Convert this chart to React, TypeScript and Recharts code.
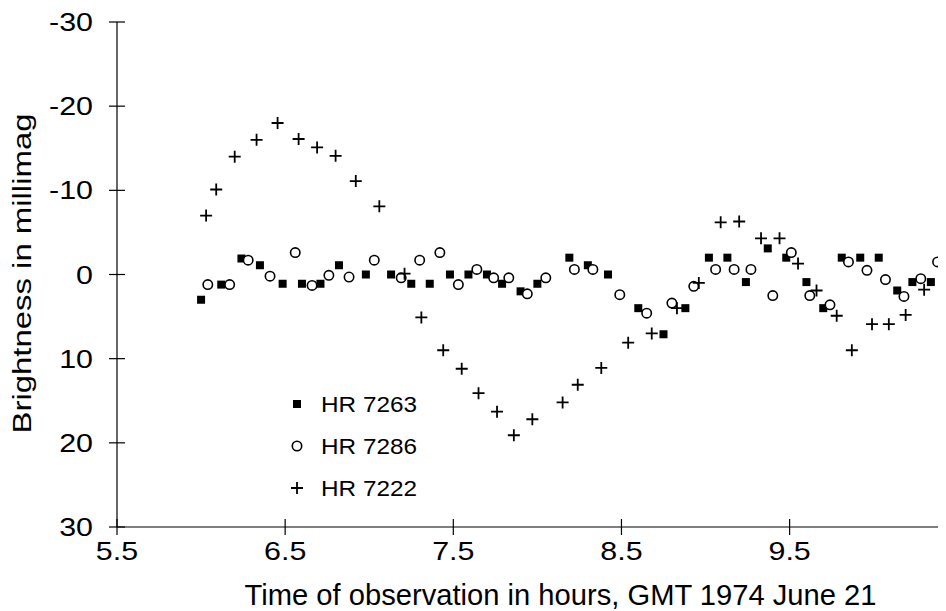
import { ScatterChart, Scatter, XAxis, YAxis, Legend } from "recharts";

// Light curves of three stars, 1974 June 21 (brightness in millimag, reversed axis)
const HR7263_T = [6.0, 6.12, 6.24, 6.35, 6.485, 6.6, 6.71, 6.82, 6.98, 7.13, 7.25, 7.36, 7.48, 7.59, 7.7, 7.79, 7.9, 8.0, 8.19, 8.3, 8.42, 8.6, 8.75, 8.88, 9.02, 9.13, 9.24, 9.37, 9.48, 9.6, 9.7, 9.81, 9.92, 10.03, 10.14, 10.23, 10.34];
const HR7263_M = [3.0, 1.2, -1.9, -1.1, 1.1, 1.1, 1.1, -1.1, 0, 0, 1.1, 1.1, 0, 0, 0, 1.1, 2.0, 1.1, -2.0, -1.1, 0, 4.0, 7.1, 4.0, -2.0, -2.0, 0.9, -3.1, -2.0, 0.9, 4.0, -2.0, -2.0, -2.0, 1.9, 0.9, 0.9];

const HR7286_T = [6.04, 6.17, 6.28, 6.41, 6.56, 6.66, 6.76, 6.88, 7.03, 7.19, 7.3, 7.42, 7.53, 7.64, 7.74, 7.83, 7.94, 8.05, 8.22, 8.33, 8.49, 8.65, 8.8, 8.93, 9.06, 9.17, 9.27, 9.4, 9.51, 9.62, 9.74, 9.85, 9.96, 10.07, 10.18, 10.28, 10.38];
const HR7286_M = [1.2, 1.2, -1.7, 0.2, -2.6, 1.3, 0.1, 0.3, -1.7, 0.4, -1.7, -2.6, 1.2, -0.6, 0.4, 0.4, 2.3, 0.4, -0.6, -0.6, 2.4, 4.6, 3.4, 1.4, -0.6, -0.6, -0.6, 2.5, -2.6, 2.5, 3.6, -1.5, -0.5, 0.6, 2.6, 0.5, -1.5];

const HR7222_T = [6.03, 6.09, 6.2, 6.33, 6.455, 6.58, 6.69, 6.8, 6.92, 7.06, 7.21, 7.31, 7.44, 7.55, 7.65, 7.76, 7.86, 7.97, 8.15, 8.24, 8.38, 8.54, 8.68, 8.83, 8.96, 9.09, 9.2, 9.33, 9.44, 9.55, 9.66, 9.78, 9.87, 9.99, 10.09, 10.19, 10.3];
const HR7222_M = [-7.0, -10.1, -14.0, -16.0, -18.0, -16.1, -15.1, -14.1, -11.1, -8.1, -0.1, 5.1, 9.0, 11.2, 14.1, 16.3, 19.1, 17.2, 15.2, 13.1, 11.1, 8.1, 7.0, 4.0, 1.0, -6.2, -6.3, -4.3, -4.3, -1.3, 1.9, 4.9, 9.0, 5.9, 5.9, 4.8, 1.8];

const X_TICKS = [5.5, 6.5, 7.5, 8.5, 9.5];
const Y_TICKS = [-30, -20, -10, 0, 10, 20, 30];
const STAR_NAMES = ["HR 7263", "HR 7286", "HR 7222"];

const INK = "#000";
const FONT = "'Liberation Sans', Arial, Helvetica, sans-serif";

const toPoints = (t: number[], m: number[]) => t.map((v, i) => ({ t: v, m: m[i] }));

type Kind = "square" | "circle" | "plus";

function Marker({ kind, cx, cy }: { kind: Kind; cx: number; cy: number }) {
  if (kind === "square") return <rect x={cx - 4} y={cy - 4} width={8} height={8} fill={INK} />;
  if (kind === "circle") return <circle cx={cx} cy={cy} r={4.7} fill="#fff" stroke={INK} strokeWidth={1.6} />;
  return (
    <path d={`M${cx - 6},${cy}H${cx + 6}M${cx},${cy - 6}V${cy + 6}`} stroke={INK} strokeWidth={1.8} fill="none" />
  );
}

const shapeOf = (kind: Kind) => (p: any) => <Marker kind={kind} cx={p.cx} cy={p.cy} />;

const SERIES: { name: string; kind: Kind; data: { t: number; m: number }[] }[] = [
  { name: STAR_NAMES[0], kind: "square", data: toPoints(HR7263_T, HR7263_M) },
  { name: STAR_NAMES[1], kind: "circle", data: toPoints(HR7286_T, HR7286_M) },
  { name: STAR_NAMES[2], kind: "plus", data: toPoints(HR7222_T, HR7222_M) },
];

// tick numbers in the scan are wide; stretch them a little around their anchor
function TickText({ x, y, anchor, children }: { x: number; y: number; anchor: "end" | "middle"; children: any }) {
  return (
    <text
      x={0}
      y={0}
      transform={`translate(${x} ${y}) scale(1.17 1)`}
      textAnchor={anchor}
      fontFamily={FONT}
      fontSize={26}
      fill={INK}
    >
      {children}
    </text>
  );
}

function YTick({ x, y, payload }: any) {
  return (
    <g>
      <line x1={x - 8} x2={x + 8} y1={y} y2={y} stroke={INK} strokeWidth={1.2} />
      <TickText x={x - 24} y={y + 9} anchor="end">
        {payload.value}
      </TickText>
    </g>
  );
}

function XTick({ x, y, payload }: any) {
  return (
    <g>
      <line x1={x} x2={x} y1={y - 8} y2={y + 8} stroke={INK} strokeWidth={1.2} />
      <TickText x={x} y={y + 33} anchor="middle">
        {payload.value.toFixed(1)}
      </TickText>
    </g>
  );
}

function LegendBox() {
  return (
    <svg width={150} height={120} style={{ display: "block" }}>
      {SERIES.map((s, i) => (
        <g key={s.name}>
          <Marker kind={s.kind} cx={9} cy={24 + i * 42} />
          <text x={33} y={32 + i * 42} fontFamily={FONT} fontSize={22} fill={INK} textLength={96} lengthAdjust="spacingAndGlyphs">
            {s.name}
          </text>
        </g>
      ))}
    </svg>
  );
}

export default function App() {
  return (
    <ScatterChart width={938} height={603} margin={{ top: 14, right: 0, bottom: 0, left: 0 }}>
      <XAxis
        type="number"
        dataKey="t"
        domain={[5.5, 10.43]}
        ticks={X_TICKS}
        allowDataOverflow
        height={84}
        tickSize={0}
        tickMargin={0}
        tick={<XTick />}
        axisLine={{ stroke: INK, strokeWidth: 1.2 }}
        tickLine={false}
        label={{
          content: ({ viewBox }: any) => (
            <text
              x={viewBox.x + viewBox.width / 2 + 29}
              y={viewBox.y + 78}
              textAnchor="middle"
              fontFamily={FONT}
              fontSize={29}
              fill={INK}
              textLength={632}
              lengthAdjust="spacingAndGlyphs"
            >
              Time of observation in hours, GMT 1974 June 21
            </text>
          ),
        }}
      />
      <YAxis
        type="number"
        dataKey="m"
        domain={[-30, 30]}
        ticks={Y_TICKS}
        reversed
        width={109}
        tickSize={0}
        tickMargin={0}
        tick={<YTick />}
        axisLine={{ stroke: INK, strokeWidth: 1.2 }}
        tickLine={false}
        label={{
          content: ({ viewBox }: any) => {
            const cx = 23;
            const cy = viewBox.y + viewBox.height / 2 - 1;
            return (
              <text
                x={cx}
                y={cy}
                transform={`rotate(-90 ${cx} ${cy})`}
                textAnchor="middle"
                fontFamily={FONT}
                fontSize={26}
                fill={INK}
                textLength={320}
                lengthAdjust="spacingAndGlyphs"
              >
                Brightness in millimag
              </text>
            );
          },
        }}
      />
      <Legend
        layout="vertical"
        align="center"
        verticalAlign="middle"
        wrapperStyle={{ left: 280, top: 372, width: 150 }}
        content={() => <LegendBox />}
      />
      {SERIES.map((s) => (
        <Scatter key={s.name} name={s.name} data={s.data} shape={shapeOf(s.kind)} isAnimationActive={false} />
      ))}
    </ScatterChart>
  );
}
